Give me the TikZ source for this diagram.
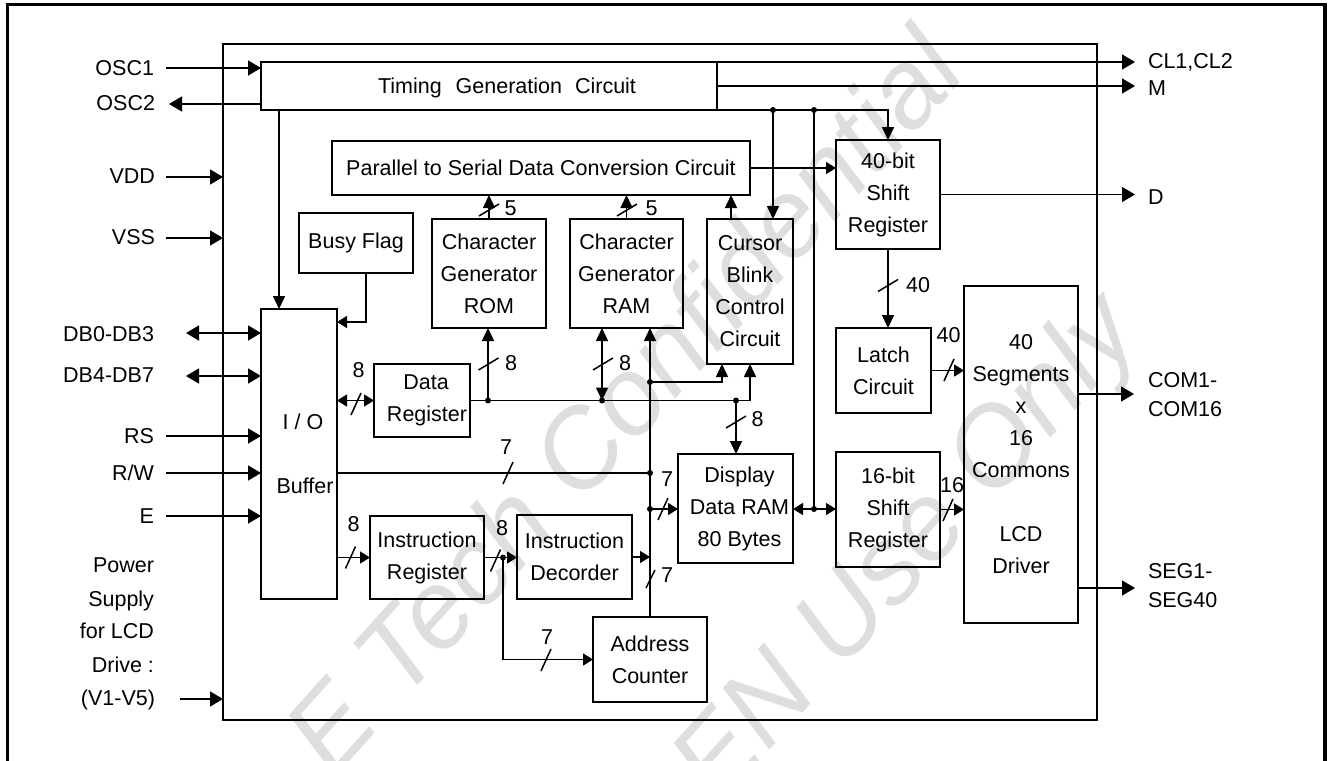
\documentclass[tikz,border=0pt]{standalone}
\usepackage{fontspec}
\setmainfont{Liberation Sans}
\usetikzlibrary{arrows.meta}
\newcommand{\mytf}{\fontsize{21.5}{32}\selectfont}
\newcommand{\myhs}[2]{\draw[ln] (#1-5,#2+11) -- (#1+5,#2-11);}
\newcommand{\myvs}[2]{\draw[ln] (#1-10,#2+6) -- (#1+10,#2-6);}
\begin{document}
\begin{tikzpicture}[x=1pt,y=-1pt,
  every node/.style={inner sep=0pt, outer sep=0pt},
  ln/.style={line width=1.5pt},
  blk/.style={draw, line width=1.5pt, align=center, font=\mytf},
  txt/.style={font=\mytf, text height=15.4pt, text depth=0pt},
  wm/.style={font=\fontsize{110}{110}\selectfont\itshape, text=black!13},
  abig/.style={-{Triangle[length=13pt,width=15pt]}},
  dbig/.style={{Triangle[length=13pt,width=15pt]}-{Triangle[length=13pt,width=15pt]}},
  amed/.style={-{Triangle[length=13pt,width=12pt]}},
  dmed/.style={{Triangle[length=13pt,width=12pt]}-{Triangle[length=13pt,width=12pt]}},
  asml/.style={-{Triangle[length=10pt,width=12pt]}},
  dsml/.style={{Triangle[length=10pt,width=12pt]}-{Triangle[length=10pt,width=12pt]}},
  jdot/.style={fill=black}
]
\useasboundingbox (0,0) rectangle (1329,760);
\fill[white] (0,0) rectangle (1329,760);
% watermark
\node[wm, rotate=48] (wm1) at (622,400) {E Tech Confidential};
\node[wm, rotate=48] (wm2) at (910,552) {EN Use Only};
% outer frame
\draw[line width=3.3pt] (7.5,775) -- (7.5,4.5) -- (1325,4.5) -- (1325,775);
% chip
\node[draw, line width=1.5pt, minimum width=874pt, minimum height=676pt] (chip) at (660,382) {};
% blocks
\node[blk, minimum width=456pt, minimum height=48pt] (tgc) at (489,86) {};
\node[txt, anchor=west] (tgct) at (378,86) {Timing\hspace{14pt}Generation\hspace{13pt}Circuit};
\node[blk, minimum width=418pt, minimum height=54pt] (psc) at (541,168) {Parallel to Serial Data Conversion Circuit};
\node[blk, minimum width=104pt, minimum height=109pt] (sr40) at (888,194.5) {40-bit\\Shift\\Register};
\node[blk, minimum width=114pt, minimum height=60pt] (busy) at (356,243) {Busy Flag};
\node[blk, minimum width=114pt, minimum height=109pt] (cgrom) at (489,273.5) {Character\\Generator\\ROM};
\node[blk, minimum width=113pt, minimum height=109pt] (cgram) at (626.5,273.5) {Character\\Generator\\RAM};
\node[blk, minimum width=86pt, minimum height=145pt] (cursor) at (750,291.5) {Cursor\\Blink\\Control\\Circuit};
\node[blk, minimum width=96pt, minimum height=73pt] (dreg) at (422,400.5) {\hspace*{8pt}Data\\\hspace*{10pt}Register};
\node[draw, line width=1.5pt, minimum width=76pt, minimum height=290pt] (iobuf) at (299,454) {};
\node[txt] (iot1) at (303,422) {I / O};
\node[txt] (iot2) at (305,485.5) {Buffer};
\node[blk, minimum width=115pt, minimum height=109pt] (ddram) at (735.5,508.5) {\hspace*{8pt}Display\\\hspace*{8pt}Data RAM\\\hspace*{8pt}80 Bytes};
\node[blk, minimum width=95pt, minimum height=85pt] (latch) at (883.5,370.5) {Latch\\Circuit};
\node[blk, minimum width=104pt, minimum height=115pt] (sr16) at (888,509.5) {16-bit\\Shift\\Register};
\node[blk, minimum width=114pt, minimum height=337pt] (lcd) at (1021,454.5) {40\\Segments\\x\\16\\Commons\\[32pt]LCD\\Driver};
\node[blk, minimum width=114pt, minimum height=83pt] (ireg) at (427,557.5) {Instruction\\Register};
\node[blk, minimum width=115pt, minimum height=84pt] (idec) at (574.5,557) {Instruction\\Decorder};
\node[blk, minimum width=114pt, minimum height=85pt] (actr) at (650,659.5) {Address\\Counter};
% left labels
\node[txt, anchor=east] (losc1) at (154,67.5) {OSC1};
\node[txt, anchor=east] (losc2) at (155,103) {OSC2};
\node[txt, anchor=east] (lvdd) at (155,176) {VDD};
\node[txt, anchor=east] (lvss) at (155,237) {VSS};
\node[txt, anchor=east] (ldb1) at (154,334) {DB0-DB3};
\node[txt, anchor=east] (ldb2) at (154,375) {DB4-DB7};
\node[txt, anchor=east] (lrs) at (154,436) {RS};
\node[txt, anchor=east] (lrw) at (154,472.5) {R/W};
\node[txt, anchor=east] (le) at (154,515.5) {E};
\node[txt, anchor=east] (lp1) at (154,565) {Power};
\node[txt, anchor=east] (lp2) at (154,598.5) {Supply};
\node[txt, anchor=east] (lp3) at (154,631) {for LCD};
\node[txt, anchor=east] (lp4) at (154,664.5) {Drive :};
\node[txt, anchor=east] (lp5) at (155,698) {(V1-V5)};
% right labels
\node[txt, anchor=west] (rcl) at (1148,61) {CL1,CL2};
\node[txt, anchor=west] (rm) at (1148,88) {M};
\node[txt, anchor=west] (rd) at (1148,197) {D};
\node[txt, anchor=west] (rc1) at (1148,380) {COM1-};
\node[txt, anchor=west] (rc2) at (1148,408.5) {COM16};
\node[txt, anchor=west] (rs1) at (1148,571) {SEG1-};
\node[txt, anchor=west] (rs2) at (1148,599.5) {SEG40};
% coordinates
\coordinate (j1) at (773,110);
\coordinate (j2) at (814,110);
\coordinate (j3) at (814,509);
\coordinate (d1) at (488,400.5);
\coordinate (d2) at (602,400.5);
\coordinate (d3) at (736,400.5);
\coordinate (v1) at (650,382);
\coordinate (v2) at (650,473);
\coordinate (v3) at (650,509);
\coordinate (k1) at (503,557.5);
\coordinate (cbin) at (722,364);
\coordinate (cbout) at (731,219);
\coordinate (tgcio) at (279,110);
\coordinate (bz) at (366,322);
\coordinate (osc1s) at (166,68);
\coordinate (osc2e) at (169,104);
\coordinate (cle) at (1135,62);
\coordinate (me) at (1135,86);
\coordinate (de) at (1135,194.5);
\coordinate (vdds) at (166,177);
\coordinate (vsss) at (166,238);
\coordinate (db1) at (186,333);
\coordinate (db2) at (186,376);
\coordinate (rss) at (166,436);
\coordinate (rws) at (166,473);
\coordinate (es) at (166,516);
\coordinate (pws) at (180,699);
\coordinate (come) at (1134,394);
\coordinate (sege) at (1135,588);
% external connectors
\draw[ln,abig] (osc1s) -- (osc1s -| tgc.west);
\draw[ln,abig] (osc2e -| tgc.west) -- (osc2e);
\draw[ln,abig] (tgc.north east) -- (cle);
\draw[ln,abig] (me -| tgc.east) -- (me);
\draw[ln,abig] (vdds) -- (vdds -| chip.west);
\draw[ln,abig] (vsss) -- (vsss -| chip.west);
\draw[ln,dbig] (db1) -- (db1 -| iobuf.west);
\draw[ln,dbig] (db2) -- (db2 -| iobuf.west);
\draw[ln,abig] (rss) -- (rss -| iobuf.west);
\draw[ln,abig] (rws) -- (rws -| iobuf.west);
\draw[ln,abig] (es) -- (es -| iobuf.west);
\draw[ln,abig] (pws) -- (pws -| chip.west);
\draw[ln,abig] (sr40.east) -- (de);
\draw[ln,abig] (come -| lcd.east) -- (come);
\draw[ln,abig] (sege -| lcd.east) -- (sege);
% timing distribution
\draw[ln,amed] (tgc.south east) -| (sr40.north);
\draw[ln,amed] (j1) -- (j1 |- cursor.north);
\draw[ln] (j2) -- (j3);
\draw[ln,amed] (tgcio) -- (tgcio |- iobuf.north);
% internal
\draw[ln,asml] (psc.east) -- (psc.east -| sr40.west);
\draw[ln,amed] (cgrom.north) -- (cgrom.north |- psc.south);
\draw[ln,amed] (cgram.north) -- (cgram.north |- psc.south);
\draw[ln,amed] (cbout) -- (cbout |- psc.south);
\draw[ln,amed] (sr40.south) -- (sr40.south |- latch.north);
\draw[ln,asml] (latch.east) -- (latch.east -| lcd.west);
\draw[ln,asml] (sr16.east) -- (sr16.east -| lcd.west);
\draw[ln,asml] (bz |- busy.south) |- (bz -| iobuf.east);
\draw[ln,dsml] (dreg.west -| iobuf.east) -- (dreg.west);
\draw[ln,amed] (dreg.east) -| (cursor.south);
\draw[ln,amed] (d1) -- (d1 |- cgrom.south);
\draw[ln,dmed] (d2) -- (d2 |- cgram.south);
\draw[ln,amed] (d3) -- (d3 |- ddram.north);
\draw[ln,amed] (actr.north) -- (actr.north |- cgram.south);
\draw[ln,amed] (v1) -| (cbin);
\draw[ln] (iobuf.east |- v2) -- (v2);
\draw[ln,asml] (v3) -- (v3 -| ddram.west);
\draw[ln,asml] (idec.east) -- (idec.east -| v1);
\draw[ln,asml] (j3) -- (j3 -| ddram.east);
\draw[ln,asml] (j3) -- (j3 -| sr16.west);
\draw[ln,asml] (ireg.west -| iobuf.east) -- (ireg.west);
\draw[ln,asml] (ireg.east) -- (ireg.east -| idec.west);
\draw[ln,asml] (k1) |- (actr.west);
% junction dots
\foreach \p in {j1,j2,j3,d1,d2,d3,v1,v2,v3,k1} \fill[jdot] (\p) circle[radius=3pt];
% bus slashes
\myvs{489}{210}
\myvs{627}{210}
\myvs{488.5}{364}
\myvs{603}{364}
\myvs{736}{422}
\myvs{888}{285.5}
\myhs{356}{404}
\myhs{508}{473}
\myhs{663}{509}
\myhs{350.5}{557.5}
\myhs{495.5}{560.5}
\myhs{546}{660}
\myhs{949}{370}
\myhs{948}{510}
\draw[ln] (646,588) -- (655,570);
% bus widths
\node[txt] (n5a) at (510.5,208) {5};
\node[txt] (n5b) at (651.5,208) {5};
\node[txt] (n8a) at (511,363) {8};
\node[txt] (n8b) at (625,363) {8};
\node[txt] (n8c) at (757.5,419) {8};
\node[txt] (n8d) at (358.5,370) {8};
\node[txt] (n8e) at (353.5,524) {8};
\node[txt] (n8f) at (502,527.5) {8};
\node[txt] (n7a) at (506,447) {7};
\node[txt] (n7b) at (667,479) {7};
\node[txt] (n7c) at (667,574.5) {7};
\node[txt] (n7d) at (547,637) {7};
\node[txt] (n40a) at (918,285) {40};
\node[txt] (n40b) at (948.5,335) {40};
\node[txt] (n16) at (952,485) {16};
\end{tikzpicture}
\end{document}
